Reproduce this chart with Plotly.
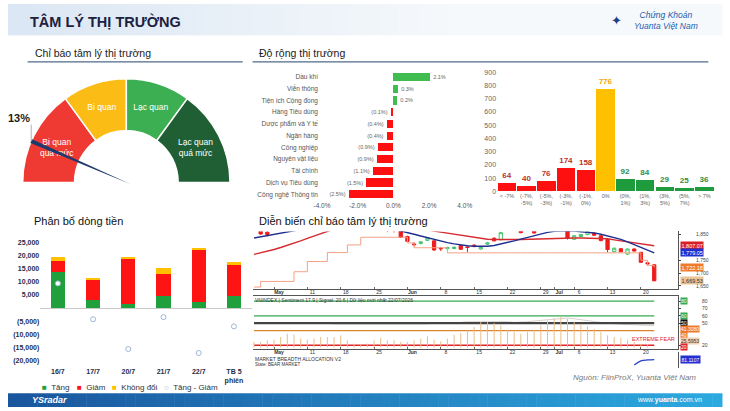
import plotly.graph_objects as go
import numpy as np

W, H = 730, 411
FONT = "Liberation Sans"


def px(x):
    return x / W


def py(y):
    return 1 - y / H


# ---------------- DATA ----------------
# Gauge (market sentiment indicator)
gauge_labels = ["Bi quan<br>quá mức", "Bi quan", "Lạc quan", "Lạc quan<br>quá mức"]
gauge_sizes = [30, 20, 20, 30]
gauge_colors = ["#ee3a32", "#fbbc16", "#3caf53", "#1f5f33"]
sentiment_value = 13

# Sector breadth (% change)
sectors = ["Dầu khí", "Viễn thông", "Tiện ích Cộng đồng", "Hàng Tiêu dùng",
           "Dược phẩm và Y tế", "Ngân hàng", "Công nghiệp", "Nguyên vật liệu",
           "Tài chính", "Dịch vụ Tiêu dùng", "Công nghệ Thông tin"]
sector_change = [2.06, 0.27, 0.22, -0.15, -0.37, -0.38, -0.88, -0.93, -1.15, -1.52, -2.50]

# Distribution of stock changes
change_buckets = ["< -7%", "(-7%,<br>-5%)", "(-5%,<br>-3%)", "(-3%,<br>-1%)", "(-1%,<br>0%)", "0%",
                  "(0%,<br>1%)", "(1%,<br>3%)", "(3%,<br>5%)", "(5%,<br>7%)", "> 7%"]
bucket_counts = [64, 40, 76, 174, 158, 776, 92, 84, 29, 25, 36]

# Money flow allocation (billion VND)
flow_days = ["16/7", "17/7", "20/7", "21/7", "22/7", "TB 5<br>phiên"]
flow_up = [13700, 3200, 1700, 4700, 2500, 4800]
flow_down = [4300, 7400, 17200, 8100, 19500, 11700]
flow_flat = [1300, 800, 600, 2500, 700, 1000]
flow_net = [9400, -4200, -15500, -3400, -17000, -6900]
flow_ticks = [25000, 20000, 15000, 10000, 5000, -5000, -10000, -15000, -20000]
flow_ticktext = ["25,000", "20,000", "15,000", "10,000", "5,000", "(5,000)", "(10,000)", "(15,000)", "(20,000)"]

# VNINDEX daily candles
dates = ["2026-04-27", "2026-04-28", "2026-04-29",
         "2026-05-04", "2026-05-05", "2026-05-06", "2026-05-07", "2026-05-08",
         "2026-05-11", "2026-05-12", "2026-05-13", "2026-05-14", "2026-05-15",
         "2026-05-18", "2026-05-19", "2026-05-20", "2026-05-21", "2026-05-22",
         "2026-05-25", "2026-05-26", "2026-05-27", "2026-05-28", "2026-05-29",
         "2026-06-01", "2026-06-02", "2026-06-03", "2026-06-04", "2026-06-05",
         "2026-06-08", "2026-06-09", "2026-06-10", "2026-06-11", "2026-06-12",
         "2026-06-15", "2026-06-16", "2026-06-17", "2026-06-18", "2026-06-19",
         "2026-06-22", "2026-06-23", "2026-06-24", "2026-06-25", "2026-06-26",
         "2026-06-29", "2026-06-30", "2026-07-01", "2026-07-02", "2026-07-03",
         "2026-07-06", "2026-07-07", "2026-07-08", "2026-07-09", "2026-07-10",
         "2026-07-13", "2026-07-14", "2026-07-15", "2026-07-16", "2026-07-17",
         "2026-07-20", "2026-07-21", "2026-07-22"]
open_ = [1878, 1868, 1860, 1872, 1881, 1888, 1885, 1896, 1902, 1898, 1909, 1915, 1921, 1918, 1927,
         1934, 1926, 1914, 1902, 1889, 1872, 1870, 1868, 1843, 1814, 1816, 1828, 1826, 1797, 1795,
         1796, 1808, 1802, 1809, 1794, 1813, 1836, 1830, 1870, 1876, 1872, 1872, 1872, 1870, 1874,
         1880, 1887, 1874, 1832, 1843, 1851, 1856, 1846, 1831, 1784, 1795, 1774, 1794, 1781, 1740, 1732]
high_ = [1886, 1874, 1866, 1884, 1892, 1897, 1899, 1906, 1910, 1912, 1920, 1925, 1930, 1932, 1938,
         1940, 1931, 1920, 1908, 1894, 1880, 1876, 1871, 1846, 1820, 1824, 1839, 1828, 1802, 1803,
         1804, 1810, 1806, 1813, 1803, 1822, 1840, 1862, 1880, 1888, 1876, 1882, 1876, 1878, 1885,
         1892, 1893, 1876, 1848, 1853, 1866, 1860, 1848, 1835, 1800, 1798, 1796, 1797, 1783, 1743, 1735]
low_ = [1868, 1850, 1843, 1869, 1873, 1880, 1879, 1888, 1893, 1894, 1902, 1906, 1912, 1911, 1919,
        1922, 1910, 1898, 1884, 1872, 1860, 1859, 1838, 1822, 1804, 1812, 1826, 1788, 1786, 1792,
        1793, 1791, 1781, 1800, 1792, 1810, 1824, 1828, 1868, 1870, 1856, 1869, 1854, 1868, 1869,
        1874, 1870, 1831, 1829, 1840, 1848, 1845, 1824, 1781, 1780, 1781, 1770, 1784, 1740, 1729, 1668]
close_ = [1870, 1853, 1851, 1881, 1888, 1885, 1896, 1902, 1898, 1909, 1915, 1921, 1918, 1927, 1934,
          1926, 1914, 1902, 1889, 1876, 1870, 1868, 1840, 1824, 1811, 1822, 1837, 1790, 1795, 1800,
          1801, 1793, 1800, 1807, 1800, 1818, 1826, 1858, 1876, 1884, 1858, 1877, 1857, 1874, 1880,
          1887, 1876, 1836, 1846, 1851, 1862, 1848, 1827, 1792, 1797, 1783, 1794, 1786, 1742, 1736, 1669.53]
ma_fast = [1837, 1842, 1847, 1852, 1858, 1864, 1870, 1876, 1881, 1886, 1890, 1894, 1897, 1899, 1900,
           1900, 1898, 1895, 1890, 1884, 1878, 1872, 1866, 1860, 1852, 1845, 1838, 1831, 1825, 1819,
           1814, 1810, 1807, 1805, 1804, 1805, 1808, 1813, 1819, 1826, 1833, 1840, 1847, 1853, 1859,
           1863, 1865, 1865, 1864, 1862, 1860, 1857, 1852, 1846, 1840, 1832, 1822, 1812, 1800, 1790, 1779.05]
ma_slow = [1773, 1779, 1785, 1792, 1800, 1808, 1817, 1826, 1836, 1846, 1856, 1866, 1874, 1881, 1887,
           1892, 1896, 1899, 1900, 1900, 1898, 1895, 1890, 1885, 1879, 1874, 1869, 1864, 1860, 1856,
           1851, 1847, 1843, 1839, 1835, 1832, 1831, 1830, 1830, 1831, 1831, 1832, 1833, 1834, 1835,
           1836, 1837, 1837, 1837, 1837, 1836, 1836, 1835, 1834, 1830, 1826, 1822, 1818, 1814, 1810, 1807.07]
band_low = [1645, 1667, 1667, 1667, 1667, 1667, 1705, 1705, 1745, 1745, 1745, 1780, 1780, 1780, 1810,
            1810, 1840, 1840, 1840, 1840, 1840, 1840, 1840, 1818, 1799, 1799, 1799, 1799, 1799, 1779,
            1779, 1779, 1779, 1779, 1779, 1779, 1779, 1779, 1779, 1779, 1779, 1779, 1779, 1779, 1779,
            1779, 1779, 1779, 1779, 1779, 1779, 1779, 1779, 1779, 1779, 1779, 1779, 1779, 1750, 1730, 1722.18]
price_ticks = [1650, 1700, 1750, 1850]
price_ticktext = ["1,650", "1,700", "1,750", "1,850"]
date_tickvals = ["2026-05-04", "2026-05-11", "2026-05-18", "2026-05-25", "2026-06-01", "2026-06-08",
                 "2026-06-15", "2026-06-22", "2026-06-29", "2026-07-01", "2026-07-06", "2026-07-13", "2026-07-20"]
date_ticktext = ["<b>May</b>", "11", "18", "25", "<b>Jun</b>", "8", "15", "22", "29", "<b>Jul</b>", "6", "13", "20"]

# Sentiment oscillator
sentiment_series = [24.5, 24.5, 26.7, 27.6, 31.2, 35.7, 34.8, 29.0, 27.6, 29.0, 31.2, 31.2, 31.2, 33.5,
                    26.7, 22.2, 21.3, 22.2, 26.7, 30.3, 26.7, 26.7, 24.5, 24.5, 26.7, 29.0, 32.1, 27.6,
                    25.4, 29.0, 34.3, 36.6, 40.2, 44.7, 51.4, 51.4, 50.0, 46.9, 41.1, 37.9, 35.7, 37.9,
                    41.1, 46.9, 53.6, 56.8, 59.0, 55.9, 51.4, 48.3, 45.6, 42.4, 37.9, 33.5, 31.2, 30.3,
                    27.6, 24.5, 22.2, 21.3, 17.9]
sentiment_avg = [50, 50, 50, 50, 50, 51, 51, 51, 50, 50, 50, 50, 49, 49, 49, 48, 48, 48, 48, 48, 48, 48,
                 48, 48, 49, 49, 49, 50, 50, 50, 51, 51, 52, 52, 53, 53, 53, 52, 52, 51, 51, 52, 53, 54,
                 55, 56, 57, 57, 56, 55, 54, 52, 51, 50, 49, 49, 48, 48, 47, 47, 47]
sentiment_levels = [80, 60, 50, 40, 20]
level_colors = ["#35a852", "#35a852", "#444444", "#d9862e", "#e0242c"]
level_widths = [1.2, 1.2, 2.2, 1.2, 1.6]
sent_ticks = [20, 50, 60, 70, 80]

# Market breadth allocation (tail)
breadth_dates = ["2026-07-17", "2026-07-20", "2026-07-21", "2026-07-22"]
breadth_values = [18, 44, 50, 52]

# ---------------- FIGURE ----------------
fig = go.Figure()
shapes = []
annotations = []

# header gradient
n = 73
for k in range(n):
    t = k / (n - 1)
    c0 = np.array([219, 231, 244])
    c1 = np.array([246, 249, 252])
    c = c0 + (c1 - c0) * min(1.0, t * 1.6)
    shapes.append(dict(type="rect", xref="paper", yref="paper", x0=px(k * 10), x1=px(k * 10 + 10.5),
                       y0=py(32), y1=1, line=dict(width=0), fillcolor="rgb(%d,%d,%d)" % tuple(c), layer="below"))
# footer gradient
for k in range(n):
    t = k / (n - 1)
    c0 = np.array([26, 86, 158])
    c1 = np.array([44, 170, 224])
    c = c0 + (c1 - c0) * t
    shapes.append(dict(type="rect", xref="paper", yref="paper", x0=px(k * 10), x1=px(k * 10 + 10.5),
                       y0=0, y1=py(397), line=dict(width=0), fillcolor="rgb(%d,%d,%d)" % tuple(c), layer="below"))

# section underlines
shapes.append(dict(type="line", xref="paper", yref="paper", x0=px(20), x1=px(240), y0=py(59), y1=py(59),
                   line=dict(color="#4f6b8a", width=1.2)))
shapes.append(dict(type="line", xref="paper", yref="paper", x0=px(250), x1=px(716), y0=py(59), y1=py(59),
                   line=dict(color="#4f6b8a", width=1.2)))

# ---- Gauge
gdom_x = [px(15), px(227)]
gdom_y = [py(288), py(76)]
fig.add_trace(go.Pie(
    values=[sum(gauge_sizes)] + gauge_sizes,
    text=[""] + gauge_labels,
    textinfo="text", textposition="inside", insidetextorientation="horizontal",
    marker=dict(colors=["rgba(0,0,0,0)"] + gauge_colors,
                line=dict(color=["rgba(0,0,0,0)"] + ["white"] * 4, width=[0] + [1.5] * 4)),
    hole=0.5, rotation=90, direction="clockwise", sort=False,
    domain=dict(x=gdom_x, y=gdom_y),
    textfont=dict(color="white", size=8.5, family=FONT),
    hoverinfo="skip", showlegend=False))

theta = np.pi * (1 - sentiment_value / 100)
tipx, tipy = np.cos(theta), np.sin(theta)
perx, pery = -np.sin(theta), np.cos(theta)
hw = 0.02
shapes.append(dict(type="path", xref="x4", yref="y4", layer="above",
                   path="M %.4f,%.4f L %.4f,%.4f L %.4f,%.4f Z" % (
                       tipx + perx * hw, tipy + pery * hw, tipx - perx * hw, tipy - pery * hw,
                       -0.04 * tipx, -0.04 * tipy),
                   fillcolor="#1f3a6b", line=dict(width=0)))
shapes.append(dict(type="line", xref="x4", yref="y4", x0=tipx, x1=tipx, y0=tipy, y1=tipy + 0.16,
                   line=dict(color="#9a9a9a", width=0.8)))
annotations.append(dict(x=tipx, y=tipy + 0.15, xref="x4", yref="y4", text="<b>%d%%</b>" % sentiment_value,
                        showarrow=False, xanchor="right", yanchor="bottom", xshift=1,
                        font=dict(size=11, color="#1a1a1a", family=FONT)))
fig.add_trace(go.Scatter(x=[0], y=[0], xaxis="x4", yaxis="y4", mode="markers",
                         marker=dict(size=1, color="rgba(0,0,0,0)"), hoverinfo="skip", showlegend=False))

# ---- Sector bars
sec_text = [("%.1f%%" % v) if v >= 0 else ("(%.1f%%)" % -v) for v in sector_change]
fig.add_trace(go.Bar(
    x=sector_change, y=sectors, orientation="h", xaxis="x", yaxis="y",
    marker=dict(color=["#3fbd50" if v > 0 else "#ff1010" for v in sector_change], line=dict(width=0)),
    width=0.7, text=sec_text, textposition="outside", cliponaxis=False,
    textfont=dict(size=5.5, color="#666666", family=FONT), showlegend=False, hoverinfo="skip"))

# ---- Distribution histogram
bucket_colors = ["#ff1010"] * 5 + ["#ffc000"] + ["#1e9b3c"] * 5
bucket_text_colors = ["#b8322f"] * 5 + ["#f4a800"] + ["#2f8d45"] * 5
fig.add_trace(go.Bar(
    x=change_buckets, y=bucket_counts, xaxis="x2", yaxis="y2",
    marker=dict(color=bucket_colors, line=dict(width=0)), width=0.94,
    texttemplate="%{y}", textposition="outside", cliponaxis=False,
    textfont=dict(size=8, color=bucket_text_colors, family=FONT, weight="bold"),
    showlegend=False, hoverinfo="skip"))

# ---- Money flow
for vals, col, name in [(flow_up, "#20a03d", "Tăng"), (flow_down, "#ff1414", "Giảm"),
                        (flow_flat, "#ffc000", "Không đổi")]:
    fig.add_trace(go.Bar(x=flow_days, y=vals, name=name, xaxis="x3", yaxis="y3",
                         marker=dict(color=col, line=dict(width=0)), width=0.4,
                         showlegend=False, hoverinfo="skip"))
fig.add_trace(go.Scatter(x=flow_days, y=flow_net, name="Tăng - Giảm", xaxis="x3", yaxis="y3",
                         mode="markers", marker=dict(size=5, color="white", line=dict(color="#9db6da", width=1)),
                         showlegend=False, hoverinfo="skip"))

leg = [("■", "#20a03d", "Tăng", 33), ("■", "#ff1414", "Giảm", 68), ("■", "#ffc000", "Không đổi", 104),
       ("○", "#9db6da", "Tăng - Giảm", 157)]
for sym, col, lab, xx in leg:
    annotations.append(dict(x=px(xx), y=py(391), xref="paper", yref="paper", xanchor="left", yanchor="middle",
                            showarrow=False,
                            text="<span style='color:%s'>%s</span>  %s" % (col, sym, lab),
                            font=dict(size=8, color="#333333", family=FONT)))

# ---- Candlestick panel
fig.add_trace(go.Candlestick(
    x=dates, open=open_, high=high_, low=low_, close=close_, xaxis="x5", yaxis="y5",
    increasing=dict(line=dict(color="#47c26a", width=1), fillcolor="white"),
    decreasing=dict(line=dict(color="#ee1c1c", width=1), fillcolor="#ee1c1c"),
    whiskerwidth=0, showlegend=False, hoverinfo="skip"))
fig.add_trace(go.Scatter(x=dates, y=band_low, xaxis="x5", yaxis="y5", mode="lines", line_shape="hv",
                         line=dict(color="#f3a184", width=1), showlegend=False, hoverinfo="skip"))
fig.add_trace(go.Scatter(x=dates, y=ma_slow, xaxis="x5", yaxis="y5", mode="lines",
                         line=dict(color="#d62a2f", width=1.4), showlegend=False, hoverinfo="skip"))
fig.add_trace(go.Scatter(x=dates, y=ma_fast, xaxis="x5", yaxis="y5", mode="lines",
                         line=dict(color="#1f2f90", width=1.4), showlegend=False, hoverinfo="skip"))

price_tags = [(ma_slow[-1], "#d91f26", "white"), (ma_fast[-1], "#2230d0", "white"),
              (band_low[-1], "#ee7b2c", "white"), (close_[-1], "#e9c39a", "#333333")]
for val, bg, fc in price_tags:
    annotations.append(dict(x=px(687), xref="paper", y=val, yref="y5", xanchor="left", yanchor="middle",
                            showarrow=False, text="{:,.2f}".format(val), bgcolor=bg, borderpad=0.5,
                            font=dict(size=5.5, color=fc, family=FONT)))

# ---- Sentiment oscillator panel
bx, by = [], []
for d, v in zip(dates, sentiment_series):
    bx += [d, d, None]
    by += [17, v, None]
fig.add_trace(go.Scatter(x=dates, y=sentiment_avg, xaxis="x6", yaxis="y6", mode="lines",
                         line=dict(color="#d8d2cc", width=1), showlegend=False, hoverinfo="skip"))
for lvl, col, lw in zip(sentiment_levels, level_colors, level_widths):
    fig.add_trace(go.Scatter(x=[dates[0], dates[-1]], y=[lvl, lvl], xaxis="x6", yaxis="y6", mode="lines",
                             line=dict(color=col, width=lw), showlegend=False, hoverinfo="skip"))
fig.add_trace(go.Scatter(x=bx, y=by, xaxis="x6", yaxis="y6", mode="lines", connectgaps=False,
                         line=dict(color="#eabd8a", width=1), showlegend=False, hoverinfo="skip"))

annotations.append(dict(x=px(684), y=py(342), xref="paper", yref="paper", xanchor="right", yanchor="middle",
                        showarrow=False, text="EXTREME FEAR", font=dict(size=5.5, color="#e0242c", family=FONT)))
sent_tags = [("80", 80, "#35a852"), ("60", 60, "#35a852"), ("50", 50, "#111111"),
             ("41.3080", 41.5, "#ee7b2c"), ("40", 33.4, "#ee7b2c"), ("25.5953", 25.4, "#f4d2b0"),
             ("20", 17.4, "#e0242c"), ("17.9", 9.4, "#e0242c")]
for txt, val, bg in sent_tags:
    annotations.append(dict(x=px(687), xref="paper", y=val, yref="y6", xanchor="left", yanchor="middle",
                            showarrow=False, text=txt, bgcolor=bg, borderpad=0,
                            font=dict(size=5, color="white" if bg != "#f4d2b0" else "#333", family=FONT)))

annotations.append(dict(x=px(250), y=py(301.5), xref="paper", yref="paper", xanchor="left", yanchor="middle",
                        showarrow=False,
                        text="VNINDEX | Sentiment 17.9 | Signal: 20.6 | Dữ liệu mới nhất 22/07/2026",
                        font=dict(size=5, color="#333333", family=FONT)))

# ---- Breadth panel
fig.add_trace(go.Scatter(x=breadth_dates, y=breadth_values, xaxis="x7", yaxis="y7", mode="lines",
                         line=dict(color="#2a3fc9", width=1.2, shape="spline"), showlegend=False, hoverinfo="skip"))
annotations.append(dict(x=px(251), y=py(362), xref="paper", yref="paper", xanchor="left", yanchor="middle",
                        showarrow=False, text="MARKET BREADTH ALLOCATION V2",
                        font=dict(size=5, color="#333333", family=FONT)))
annotations.append(dict(x=px(251), y=py(368), xref="paper", yref="paper", xanchor="left", yanchor="middle",
                        showarrow=False, text="State: BEAR MARKET",
                        font=dict(size=4.5, color="#333333", family=FONT)))
annotations.append(dict(x=px(687), y=breadth_values[-1], xref="paper", yref="y7", xanchor="left", yanchor="middle",
                        showarrow=False, text="81.1107", bgcolor="#2230d0", borderpad=0.5,
                        font=dict(size=5, color="white", family=FONT)))

# ---- Titles / texts
extra = [
    dict(x=px(20), y=py(18), text="<b>TÂM LÝ THỊ TRƯỜNG</b>", font=dict(size=14.5, color="#1c2140", family=FONT)),
    dict(x=px(26), y=py(50), text="Chỉ báo tâm lý thị trường", font=dict(size=10.5, color="#1a1a1a", family=FONT)),
    dict(x=px(255), y=py(50), text="Độ rộng thị trường", font=dict(size=10.5, color="#1a1a1a", family=FONT)),
    dict(x=px(25), y=py(221), text="Phân bổ dòng tiền", font=dict(size=11, color="#111111", family=FONT)),
    dict(x=px(255), y=py(221), text="Diễn biến chỉ báo tâm lý thị trường",
         font=dict(size=11, color="#111111", family=FONT)),
    dict(x=px(705), y=py(381), text="<i>Nguồn: FiinProX, Yuanta Việt Nam</i>", xanchor="right",
         font=dict(size=8, color="#7a7a7a", family=FONT)),
    dict(x=px(22), y=py(404), text="<b><i>YSradar</i></b>", font=dict(size=9, color="white", family=FONT)),
    dict(x=px(712), y=py(404), text="www.<b>yuanta</b>.com.vn", xanchor="right",
         font=dict(size=7, color="white", family=FONT)),
    dict(x=px(638), y=py(17), text="<i>Chứng Khoán<br>Yuanta Việt Nam</i>",
         font=dict(size=8.5, color="#2460ad", family=FONT)),
    dict(x=px(622), y=py(17), text="✦", xanchor="center",
         font=dict(size=13, color="#1e3e86", family="DejaVu Sans")),
]
for a in extra:
    a.setdefault("xref", "paper")
    a.setdefault("yref", "paper")
    a.setdefault("showarrow", False)
    a.setdefault("xanchor", "left")
    a.setdefault("yanchor", "middle")
annotations += extra

axis_font = dict(size=6.5, color="#555555", family=FONT)
date_axis = dict(type="category", domain=[px(250), px(685)], range=[-0.22, 63.56],
                 tickvals=date_tickvals, ticktext=date_ticktext, tickfont=dict(size=5, color="#333", family=FONT),
                 ticks="inside", ticklen=2, tickcolor="#666", showgrid=False, zeroline=False,
                 showline=True, linecolor="#555555", linewidth=1, ticklabelshift=5, ticklabelstandoff=-2)

fig.update_layout(
    width=W, height=H, margin=dict(l=0, r=0, t=0, b=0),
    paper_bgcolor="white", plot_bgcolor="rgba(0,0,0,0)",
    showlegend=False, barmode="stack",
    font=dict(family=FONT),
    shapes=shapes, annotations=annotations,
    # sector bars
    xaxis=dict(domain=[px(321), px(467)], range=[-4, 4], anchor="y", tickvals=[-4, -2, 0, 2, 4],
               ticktext=["-4.0%", "-2.0%", "0.0%", "2.0%", "4.0%"], tickfont=axis_font,
               showgrid=False, zeroline=False, showline=False),
    yaxis=dict(domain=[py(200), py(68.5)], anchor="x", type="category", autorange="reversed",
               tickfont=dict(size=6.5, color="#555555", family=FONT), showgrid=False, zeroline=False,
               ticks="", ticklabelstandoff=3),
    # histogram
    xaxis2=dict(domain=[px(500), px(722)], anchor="y2", tickfont=dict(size=5.5, color="#666", family=FONT),
                showgrid=False, zeroline=False, ticks="", tickangle=0),
    yaxis2=dict(domain=[py(191), py(69.5)], anchor="x2", range=[0, 900], dtick=100,
                tickfont=dict(size=7, color="#666", family=FONT), showgrid=False, zeroline=False),
    # money flow
    xaxis3=dict(domain=[px(33), px(249)], anchor="y3",
                tickfont=dict(size=7, color="#1f2d4a", family=FONT, weight="bold"),
                showgrid=False, zeroline=False, ticks="", tickangle=0, ticklabelstandoff=5),
    yaxis3=dict(domain=[py(364), py(243)], anchor="x3", range=[-20000, 25000], tickvals=flow_ticks,
                ticktext=flow_ticktext, tickfont=dict(size=7, color="#1f2d4a", family=FONT, weight="bold"),
                showgrid=False, zeroline=True, zerolinecolor="#c9c9c9", zerolinewidth=1),
    # gauge helper
    xaxis4=dict(domain=gdom_x, range=[-1, 1], visible=False, anchor="y4"),
    yaxis4=dict(domain=gdom_y, range=[-1, 1], visible=False, anchor="x4"),
    # price
    xaxis5=dict(date_axis, anchor="y5", rangeslider=dict(visible=False)),
    yaxis5=dict(domain=[py(291), py(232)], anchor="x5", side="right", range=[1636, 1862.7],
                tickvals=price_ticks, ticktext=price_ticktext, tickfont=dict(size=5, color="#444", family=FONT),
                showgrid=False, zeroline=False, showline=True, linecolor="#555555", ticks="outside", ticklen=2,
                ticklabelstandoff=14),
    # sentiment
    xaxis6=dict(date_axis, anchor="y6", matches="x5", mirror=True),
    yaxis6=dict(domain=[py(352), py(298)], anchor="x6", side="right", range=[14.7, 86.7],
                tickvals=sent_ticks, tickfont=dict(size=5, color="#444", family=FONT),
                showgrid=False, zeroline=False, showline=True, linecolor="#555555", ticks="outside", ticklen=2,
                ticklabelstandoff=20),
    # breadth
    xaxis7=dict(date_axis, anchor="y7", matches="x5", visible=False),
    yaxis7=dict(domain=[py(371), py(355)], anchor="x7", side="right", range=[0, 100],
                showticklabels=False, ticks="", showgrid=False, zeroline=False, showline=True, linecolor="#555555"),
)

fig.write_html("out.html")
